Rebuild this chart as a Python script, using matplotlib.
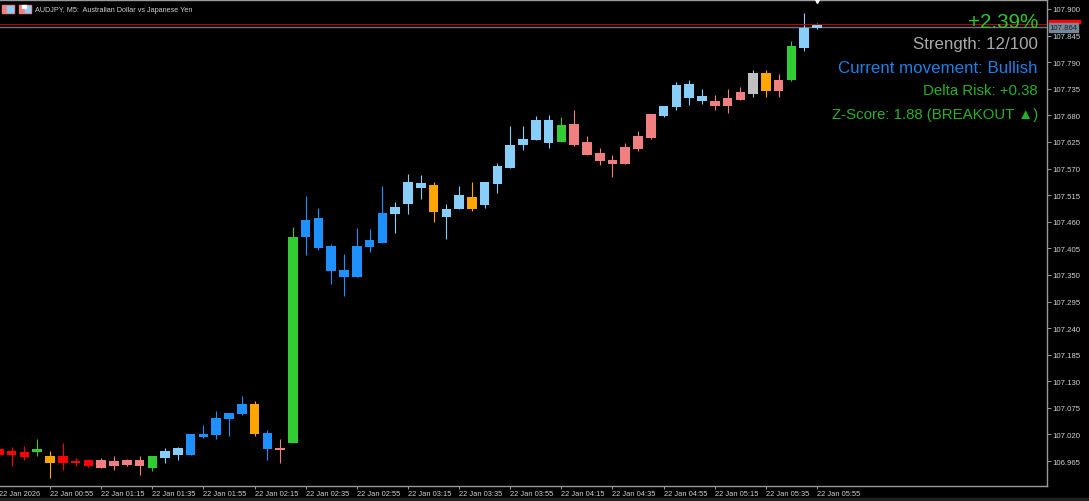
import matplotlib
matplotlib.use("Agg")
import matplotlib.pyplot as plt
from matplotlib.patches import Rectangle

plt.rcParams['font.family'] = ['Liberation Sans', 'DejaVu Sans']

W, H = 1089, 502

# candle colours, MT5 named colours
R = '#FF0000'
S = '#F08080'
G = '#32CD32'
O = '#FFA500'
B = '#1E90FF'
L = '#87CEFA'
Y = '#C0C0C0'

colors = [R, R, R, G, O, R, R, R, S, S, S, S, G, L, L, B, B, B, B, B,
          O, B, S, G, B, B, B, B, B, B, B, L, L, L, O, L, L, O, L, L,
          L, L, L, L, G, S, S, S, S, S, S, S, L, L, L, L, S, S, S, Y,
          O, S, G, L, L]

body_top = [106.989, 106.986, 106.984, 106.990, 106.975, 106.975, 106.965, 106.967, 106.967, 106.965,
            106.967, 106.967, 106.976, 106.986, 106.991, 107.020, 107.020, 107.055, 107.065, 107.084,
            107.084, 107.022, 106.992, 107.429, 107.464, 107.468, 107.409, 107.361, 107.410, 107.422,
            107.479, 107.490, 107.542, 107.540, 107.535, 107.487, 107.515, 107.511, 107.542, 107.575,
            107.619, 107.632, 107.670, 107.670, 107.661, 107.662, 107.624, 107.602, 107.588, 107.614,
            107.637, 107.682, 107.699, 107.743, 107.745, 107.720, 107.710, 107.715, 107.729, 107.768,
            107.768, 107.753, 107.823, 107.861, 107.866]
body_bot = [106.978, 106.978, 106.974, 106.983, 106.961, 106.962, 106.960, 106.954, 106.951, 106.955,
            106.957, 106.955, 106.951, 106.971, 106.978, 106.978, 107.014, 107.019, 107.052, 107.062,
            107.021, 106.989, 106.987, 107.002, 107.429, 107.405, 107.358, 107.345, 107.345, 107.408,
            107.417, 107.475, 107.497, 107.530, 107.480, 107.470, 107.486, 107.487, 107.494, 107.538,
            107.572, 107.618, 107.630, 107.623, 107.624, 107.619, 107.598, 107.586, 107.580, 107.580,
            107.610, 107.634, 107.679, 107.697, 107.716, 107.709, 107.700, 107.699, 107.712, 107.724,
            107.730, 107.730, 107.753, 107.820, 107.861]
high = [106.992, 106.994, 106.996, 107.011, 106.986, 107.002, 106.971, 106.969, 106.971, 106.976,
        106.969, 106.976, 106.976, 106.993, 106.995, 107.021, 107.040, 107.069, 107.065, 107.099,
        107.089, 107.029, 107.011, 107.450, 107.513, 107.488, 107.414, 107.393, 107.446, 107.445,
        107.533, 107.501, 107.559, 107.557, 107.542, 107.497, 107.533, 107.542, 107.542, 107.582,
        107.657, 107.657, 107.678, 107.681, 107.676, 107.691, 107.637, 107.612, 107.598, 107.622,
        107.648, 107.682, 107.699, 107.749, 107.753, 107.735, 107.722, 107.735, 107.739, 107.774,
        107.774, 107.766, 107.833, 107.892, 107.871]
low = [106.973, 106.955, 106.967, 106.976, 106.930, 106.947, 106.954, 106.953, 106.951, 106.946,
       106.955, 106.936, 106.945, 106.961, 106.968, 106.978, 107.013, 107.011, 107.017, 107.060,
       107.017, 106.967, 106.962, 107.002, 107.391, 107.402, 107.331, 107.307, 107.345, 107.397,
       107.417, 107.437, 107.477, 107.506, 107.460, 107.424, 107.486, 107.482, 107.489, 107.519,
       107.572, 107.608, 107.630, 107.613, 107.624, 107.616, 107.598, 107.578, 107.553, 107.579,
       107.606, 107.631, 107.676, 107.692, 107.702, 107.704, 107.692, 107.685, 107.712, 107.719,
       107.717, 107.717, 107.752, 107.813, 107.859]

bid = 107.863
ask = 107.868

y_ticks = [107.900, 107.845, 107.790, 107.735, 107.680, 107.625, 107.570, 107.515, 107.460,
           107.405, 107.350, 107.295, 107.240, 107.185, 107.130, 107.075, 107.020, 106.965]
x_labels = ['22 Jan 2026', '22 Jan 00:55', '22 Jan 01:15', '22 Jan 01:35', '22 Jan 01:55',
            '22 Jan 02:15', '22 Jan 02:35', '22 Jan 02:55', '22 Jan 03:15', '22 Jan 03:35',
            '22 Jan 03:55', '22 Jan 04:15', '22 Jan 04:35', '22 Jan 04:55', '22 Jan 05:15',
            '22 Jan 05:35', '22 Jan 05:55']

title = 'AUDJPY, M5:  Australian Dollar vs Japanese Yen'
info_lines = ['+2.39%', 'Strength: 12/100', 'Current movement: Bullish',
              'Delta Risk: +0.38', 'Z-Score: 1.88 (BREAKOUT \u25b2)']
info_colors = ['#2EC42E', '#A9A9A9', '#1E7FE6', '#28B028', '#28B028']
info_sizes = [14.9, 12.2, 12.2, 10.8, 10.8]
info_y = [23, 44.5, 68.5, 91, 115]

AXIS = '#9A9A9A'
TXT = '#D0D0D0'

fig = plt.figure(figsize=(W / 100, H / 100), dpi=100, facecolor='black')
# axes run a little past the left edge so the first candle is cut like the original
ax = fig.add_axes([-5 / W, 15 / H, 1052 / W, 486 / H], facecolor='black')

x = list(range(len(colors)))
ax.vlines(x, low, high, colors=colors, linewidth=0.8, zorder=2)
ax.bar(x, [t - b for t, b in zip(body_top, body_bot)], bottom=body_bot, width=0.75,
       color=colors, linewidth=0, zorder=3)

ax.axhline(bid, color='#6A747C', linewidth=1.0, zorder=1)
ax.axhline(ask, color='#C00000', linewidth=0.7, zorder=4)

ax.set_xlim(-0.305, 81.99)
ax.set_ylim(106.9134, 107.9186)

ax.yaxis.tick_right()
ax.set_yticks(y_ticks)
ax.set_yticklabels(['%.3f' % v for v in y_ticks], fontsize=5.6, color=TXT)
ax.tick_params(axis='y', length=3, width=0.7, color=AXIS, pad=0.5)

ax.set_xticks([i * 4 for i in range(len(x_labels))])
ax.set_xticklabels(x_labels, fontsize=5.4, color=TXT, ha='left')
ax.tick_params(axis='x', length=2.5, width=0.7, color=AXIS, pad=0.5)

for sp in ax.spines.values():
    sp.set_color(AXIS)
    sp.set_linewidth(1.0)
ax.spines['left'].set_visible(False)

# white marker on the top edge over the last candle
ax.plot([64], [107.9186], marker='v', color='white', markersize=5, clip_on=False, zorder=6)

# last price tags on the right scale
fig.patches.append(Rectangle((1049 / W, 1 - 23.5 / H), 31 / W, 2.5 / H, color='#FF0000',
                             transform=fig.transFigure))
fig.patches.append(Rectangle((1049 / W, 1 - 33 / H), 29 / W, 9.5 / H, color='#778899',
                             transform=fig.transFigure))
fig.text(1063.5 / W, 1 - 28.5 / H, '107.864', fontsize=5.6, color='#1C2228',
         ha='center', va='center')

# bottom strip under the time scale
fig.patches.append(Rectangle((0, 0), 1, 3 / H, color='#202020', transform=fig.transFigure))

# the two toolbar icons next to the title
for left in (2, 19):
    fig.patches.append(Rectangle((left / W, 1 - 13.5 / H), 12 / W, 8 / H, color='#F08080',
                                 transform=fig.transFigure))
fig.patches.append(Rectangle((7 / W, 1 - 12.5 / H), 6 / W, 6 / H, color='#87CEFA',
                             transform=fig.transFigure))
fig.patches.append(Rectangle((25 / W, 1 - 12.5 / H), 5 / W, 6 / H, color='#87CEFA',
                             transform=fig.transFigure))
fig.patches.append(Rectangle((22 / W, 1 - 9 / H), 4 / W, 3 / H, color='white',
                             transform=fig.transFigure))

fig.text(35 / W, 1 - 10 / H, title, fontsize=5.25, color=TXT, ha='left', va='center')

for s, c, fs, yy in zip(info_lines, info_colors, info_sizes, info_y):
    fig.text(1038 / W, 1 - yy / H, s, fontsize=fs, color=c, ha='right', va='center', zorder=8)

fig.savefig('out.png', dpi=100, facecolor='black')
